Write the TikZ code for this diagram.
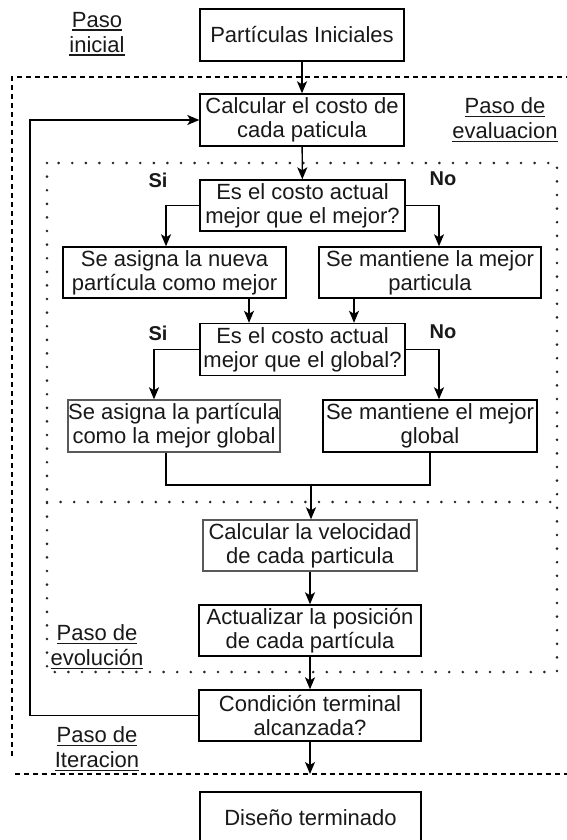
\documentclass[tikz,border=0pt]{standalone}
\usepackage{fontspec}
\setmainfont{Liberation Sans}
\usetikzlibrary{arrows.meta,calc}
% underlined word with a slightly heavier rule
\newcommand{\ulword}[1]{\leavevmode\vtop{\hbox{#1}\kern1.6pt\hrule height 1.3pt}}
\begin{document}
\begin{tikzpicture}[x=1pt,y=-1pt,
  box/.style={draw=black, line width=1.4pt, fill=white, align=center, inner sep=0pt,
              font=\fontsize{22}{24}\selectfont, text=black!90},
  softbox/.style={box, draw=black!65},
  lbl/.style={align=center, inner sep=0pt, font=\fontsize{22}{25}\selectfont, text=black!90},
  ans/.style={inner sep=0pt, font=\bfseries\fontsize{20}{24}\selectfont, text=black!90},
  arr/.style={line width=1.4pt, -{Stealth[length=12pt,width=10pt,inset=3pt]}},
  link/.style={line width=1.4pt},
  dotline/.style={line width=2.9pt, line cap=round, dash pattern=on 0pt off 13.6pt, draw=black!85},
  dashline/.style={line width=1.3pt, dash pattern=on 5pt off 4pt}]
\useasboundingbox (0,0) rectangle (567,840);

% group frames
\draw[dashline] (580,77) -- (12,77) -- (12,757);
\draw[dashline] (15,774) -- (580,774);
\draw[dotline] (47,163) rectangle (557,672);
\draw[dotline] (47,502) -- (557,502);

% steps
\node[box, minimum width=204pt, minimum height=52pt] (ini) at (302,35) {Partículas Iniciales};
\node[box, minimum width=204pt, minimum height=52pt] (cost) at (302,120) {Calcular el costo de\\cada paticula};
\node[box, minimum width=205pt, minimum height=51pt] (q1) at (302.5,205.5) {Es el costo actual\\mejor que el mejor?};
\node[box, minimum width=223pt, minimum height=51pt] (newbest) at (174.5,272.5) {Se asigna la nueva\\partícula como mejor};
\node[box, minimum width=222pt, minimum height=51pt] (keepbest) at (430,272.5) {Se mantiene la mejor\\particula};
\node[box, minimum width=205pt, minimum height=52pt] (q2) at (302.5,349.5) {Es el costo actual\\mejor que el global?};
\node[softbox, minimum width=212pt, minimum height=52pt] (newglob) at (174,426) {Se asigna la partícula\\como la mejor global};
\node[box, minimum width=214pt, minimum height=52pt] (keepglob) at (430,426) {Se mantiene el mejor\\global};
\node[softbox, minimum width=214pt, minimum height=51pt] (vel) at (310,545.5) {Calcular la velocidad\\de cada particula};
\node[box, minimum width=222pt, minimum height=51pt] (pos) at (310,630.5) {Actualizar la posición\\de cada partícula};
\node[box, minimum width=222pt, minimum height=51pt] (stop) at (310,715.5) {Condición terminal\\alcanzada?};
\node[box, minimum width=221pt, minimum height=51pt] (done) at (310.5,817.5) {Diseño terminado};

% group labels
\node[lbl] (lini) at (97,34) {\ulword{Paso}\\\ulword{inicial}};
\node[lbl] (leva) at (505,120) {\ulword{Paso de}\\\ulword{evaluacion}};
\node[lbl] (levo) at (97,647) {\ulword{Paso de}\\\ulword{evolución}};
\node[lbl] (lite) at (97,749) {\ulword{Paso de}\\\ulword{Iteracion}};

% branch answers
\node[ans] (si1) at (158,180) {Si};
\node[ans] (no1) at (443,179) {No};
\node[ans] (si2) at (158,333) {Si};
\node[ans] (no2) at (443,332) {No};

% connectors
\coordinate (merge) at (311,485);
\coordinate (exit) at (310,774);
\draw[arr] (ini) -- (cost);
\draw[arr] (cost) -- (q1);
\draw[arr] (q1.west) -| (166,0 |- newbest.north);
\draw[arr] (q1.east) -| (439,0 |- keepbest.north);
\draw[arr] (249,0 |- newbest.south) -- (249,0 |- q2.north);
\draw[arr] (354,0 |- keepbest.south) -- (354,0 |- q2.north);
\draw[arr] (q2.west) -| (154,0 |- newglob.north);
\draw[arr] (q2.east) -| (439,0 |- keepglob.north);
\draw[link] (166,0 |- newglob.south) |- (merge) -| (430,0 |- keepglob.south);
\draw[arr] (merge) -- (merge |- vel.north);
\draw[arr] (vel) -- (pos);
\draw[arr] (pos) -- (stop);
\draw[arr] (stop) -- (exit);
\draw[arr] (stop.west) -- (30,0 |- stop.west) -- (30,0 |- cost.west) -- (cost.west);
\end{tikzpicture}
\end{document}
